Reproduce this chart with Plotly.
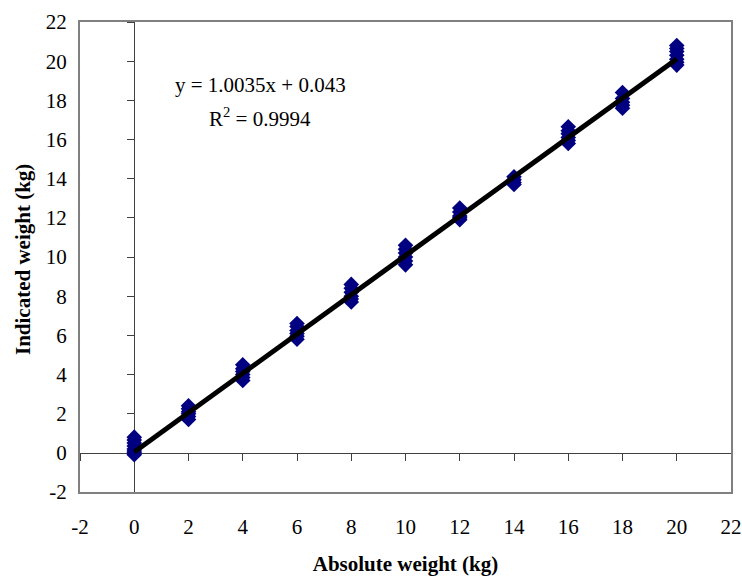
import plotly.graph_objects as go

# ---- data ----
absolute_levels = [0, 2, 4, 6, 8, 10, 12, 14, 16, 18, 20]
indicated_at_0 = [-0.1, 0.0, 0.1, 0.2, 0.35, 0.5, 0.65, 0.8]
indicated_at_2 = [1.7, 1.85, 2.0, 2.1, 2.25, 2.4]
indicated_at_4 = [3.7, 3.85, 4.0, 4.15, 4.3, 4.5]
indicated_at_6 = [5.8, 5.95, 6.1, 6.25, 6.45, 6.6]
indicated_at_8 = [7.7, 7.85, 8.0, 8.2, 8.4, 8.6]
indicated_at_10 = [9.6, 9.8, 10.0, 10.2, 10.4, 10.6]
indicated_at_12 = [11.9, 12.0, 12.1, 12.3, 12.5]
indicated_at_14 = [13.7, 13.8, 13.95, 14.1]
indicated_at_16 = [15.8, 15.95, 16.1, 16.3, 16.45, 16.65]
indicated_at_18 = [17.6, 17.75, 17.9, 18.1, 18.4]
indicated_at_20 = [19.8, 19.95, 20.1, 20.3, 20.5, 20.65, 20.8]

fit_slope = 1.0035
fit_intercept = 0.043
fit_x = [0, 20]

tick_values = [-2, 0, 2, 4, 6, 8, 10, 12, 14, 16, 18, 20, 22]
tick_labels = ["-2", "0", "2", "4", "6", "8", "10", "12", "14", "16", "18", "20", "22"]
axis_range = [-2, 22]

groups = [indicated_at_0, indicated_at_2, indicated_at_4, indicated_at_6,
          indicated_at_8, indicated_at_10, indicated_at_12, indicated_at_14,
          indicated_at_16, indicated_at_18, indicated_at_20]

xs, ys = [], []
for lvl, vals in zip(absolute_levels, groups):
    xs += [lvl] * len(vals)
    ys += vals

fit_y = [fit_slope * v + fit_intercept for v in fit_x]

FONT = "Liberation Serif"

fig = go.Figure()
fig.add_trace(go.Scatter(
    x=xs, y=ys, mode="markers",
    marker=dict(symbol="diamond", size=12, color="#000080",
                line=dict(width=0)),
    showlegend=False, hoverinfo="skip"))
fig.add_trace(go.Scatter(
    x=fit_x, y=fit_y, mode="lines",
    line=dict(color="black", width=5),
    xaxis="x2", yaxis="y2",
    showlegend=False, hoverinfo="skip"))

zero_frac = (0 - axis_range[0]) / (axis_range[1] - axis_range[0])

fig.update_layout(
    width=742, height=576,
    margin=dict(l=80, r=11, t=22, b=84),
    paper_bgcolor="white", plot_bgcolor="white",
    font=dict(family=FONT, size=21, color="black"),
    xaxis=dict(range=axis_range, tickvals=tick_values, ticktext=tick_labels,
               automargin=False,
               showgrid=False, zeroline=False,
               showline=True, linecolor="#808080", linewidth=2, mirror=True,
               ticks="outside", ticklen=15, tickcolor="rgba(0,0,0,0)",
               tickfont=dict(family=FONT, size=21, color="black"),
               title=dict(text="Absolute weight (kg)",
                          font=dict(family=FONT, size=21, weight="bold"),
                          standoff=19)),
    yaxis=dict(range=axis_range, tickvals=tick_values, ticktext=tick_labels,
               automargin=False,
               showgrid=False, zeroline=False,
               showline=True, linecolor="#808080", linewidth=2, mirror=True,
               ticks="outside", ticklen=7, tickcolor="rgba(0,0,0,0)",
               tickfont=dict(family=FONT, size=21, color="black")),
    xaxis2=dict(range=axis_range, tickvals=tick_values, overlaying="x",
                anchor="free", position=zero_frac, side="bottom",
                automargin=False,
                showgrid=False, zeroline=False, showticklabels=False,
                showline=True, linecolor="#404040", linewidth=1,
                ticks="outside", ticklen=7, tickcolor="#404040", tickwidth=1,
                layer="below traces"),
    yaxis2=dict(range=axis_range, tickvals=tick_values, overlaying="y",
                anchor="free", position=zero_frac, side="left",
                automargin=False,
                showgrid=False, zeroline=False, showticklabels=False,
                showline=True, linecolor="#404040", linewidth=1,
                ticks="outside", ticklen=7, tickcolor="#404040", tickwidth=1,
                layer="below traces"),
    annotations=[
        dict(text="y = 1.0035x + 0.043", x=4.65, y=18.78, xref="x", yref="y",
             showarrow=False, font=dict(family=FONT, size=21, color="black")),
        dict(text="R<sup>2</sup> = 0.9994", x=4.65, y=17.1, xref="x", yref="y",
             showarrow=False, font=dict(family=FONT, size=21, color="black")),
        dict(text="Indicated weight (kg)", textangle=-90,
             x=0, y=0.5, xref="paper", yref="paper",
             xanchor="center", yanchor="middle", xshift=-57, yshift=-3,
             showarrow=False,
             font=dict(family=FONT, size=21, color="black", weight="bold")),
    ],
)

fig.write_html(
    "out.html",
    config={"displayModeBar": False},
    post_script="document.body.style.margin='0';document.body.style.overflow='hidden';",
)
